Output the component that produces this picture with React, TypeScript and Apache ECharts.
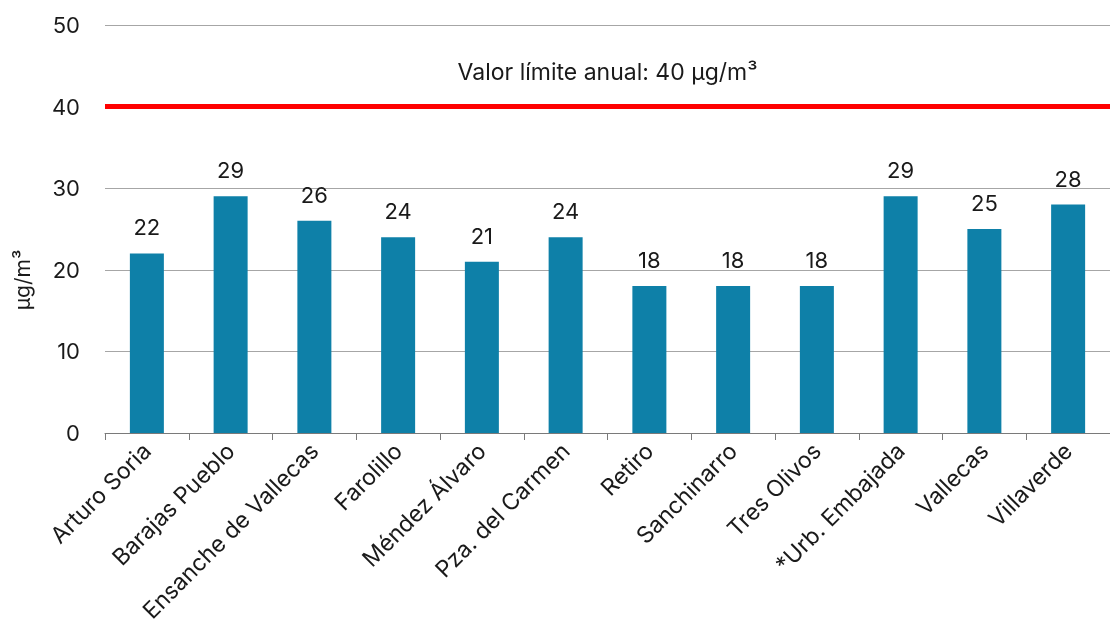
import React, { useEffect, useRef } from "react";
import * as echarts from "echarts";

const categories = [
  "Arturo Soria",
  "Barajas Pueblo",
  "Ensanche de Vallecas",
  "Farolillo",
  "Méndez Álvaro",
  "Pza. del Carmen",
  "Retiro",
  "Sanchinarro",
  "Tres Olivos",
  "*Urb. Embajada",
  "Vallecas",
  "Villaverde",
];
const values = [22, 29, 26, 24, 21, 24, 18, 18, 18, 29, 25, 28];
const limitValue = 40;
const limitLabel = "Valor límite anual: 40 µg/m³";
const yAxisName = "µg/m³";

const FONT = "Inter, 'Noto Sans', sans-serif";

export default function App() {
  const ref = useRef<HTMLDivElement>(null);
  useEffect(() => {
    if (!ref.current) return;
    const chart = echarts.init(ref.current, null, { renderer: "svg" });
    chart.setOption({
      animation: false,
      textStyle: { fontFamily: FONT },
      grid: { left: 105, right: 0, top: 25, bottom: 202, containLabel: false },
      xAxis: {
        type: "category",
        data: categories,
        boundaryGap: true,
        axisLine: { show: true, lineStyle: { color: "#7a7a7a", width: 1 } },
        axisTick: { show: true, length: 7, lineStyle: { color: "#7a7a7a" } },
        axisLabel: {
          interval: 0,
          rotate: 45,
          fontSize: 23,
          color: "#1a1a1a",
          fontFamily: FONT,
          margin: 14,
        },
      },
      yAxis: {
        type: "value",
        min: 0,
        max: 50,
        interval: 10,
        axisLine: { show: false },
        axisTick: { show: false },
        splitLine: { show: true, lineStyle: { color: "#a6a6a6", width: 1 } },
        axisLabel: { fontSize: 22, color: "#1a1a1a", margin: 25, fontFamily: FONT },
      },
      graphic: [
        {
          type: "text",
          x: 22,
          y: 280,
          rotation: Math.PI / 2,
          style: {
            text: yAxisName,
            fontSize: 21,
            fill: "#1a1a1a",
            fontFamily: FONT,
            align: "center",
            verticalAlign: "middle",
          },
        },
      ],
      series: [
        {
          type: "bar",
          data: values,
          barWidth: 34,
          itemStyle: { color: "#0e80a8" },
          label: {
            show: true,
            position: "top",
            distance: 15,
            fontSize: 22,
            color: "#1a1a1a",
            fontFamily: FONT,
          },
          markLine: {
            silent: true,
            symbol: "none",
            data: [{ yAxis: limitValue }],
            lineStyle: { color: "#ff0000", width: 5, type: "solid" },
            label: {
              show: true,
              position: "middle",
              formatter: limitLabel,
              distance: 23,
              fontSize: 23,
              color: "#1a1a1a",
              fontFamily: FONT,
            },
          },
        },
      ],
    });
    return () => chart.dispose();
  }, []);
  return (
    <div
      ref={ref}
      style={{ position: "fixed", left: 0, top: 0, width: 1110, height: 635 }}
    />
  );
}
